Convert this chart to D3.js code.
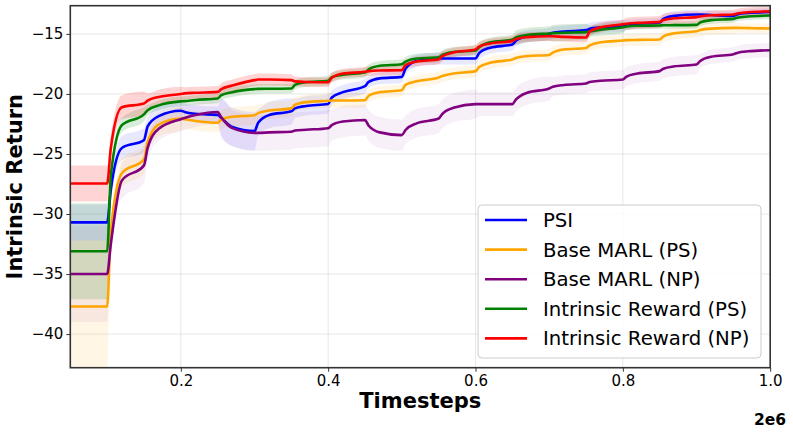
<!DOCTYPE html>
<html>
<head>
<meta charset="utf-8">
<script src="https://cdn.jsdelivr.net/npm/d3@7"></script>
<style>
body { margin: 0; background: #fff; }
text { font-family: "DejaVu Sans", sans-serif; }
</style>
</head>
<body>
<script>
var width = 793, height = 434
var margin = {top: 5.7, right: 22.8, bottom: 66.3, left: 70.3}

// timesteps where the curves were read: each evaluation (every 1e5 steps),
// plus two points just after each jump (+1e4 and +4e4 steps)
var timesteps = [100000,
    200000, 210000, 240000,   300000, 310000, 340000,   400000, 410000, 440000,
    500000, 510000, 540000,   600000, 610000, 640000,   700000, 710000, 740000,
    800000, 810000, 840000,   900000, 910000, 940000,   1000000, 1010000, 1040000,
    1100000, 1110000, 1140000, 1200000, 1210000, 1240000, 1300000, 1310000, 1340000,
    1400000, 1410000, 1440000, 1500000, 1510000, 1540000, 1600000, 1610000, 1640000,
    1700000, 1710000, 1740000, 1800000, 1810000, 1840000, 1900000, 1910000, 1940000,
    2000000]

var psi = [-30.7,
    -30.7, -28.0, -24.5,   -23.85, -22.7, -21.85,   -21.4, -21.5, -21.65,
    -21.75, -22.0, -22.75,   -23.1, -22.4, -21.75,   -21.45, -21.2, -21.0,
    -20.83, -20.3, -19.85,   -19.35, -19.0, -18.7,   -18.58, -17.9, -17.25,
    -17.05, -17.05, -17.05,   -17.05, -16.6, -16.15,   -15.88, -15.55, -15.2,
    -15.0, -14.9, -14.8,   -14.68, -14.58, -14.45,   -14.35, -14.25, -14.15,
    -14.05, -13.75, -13.5,   -13.38, -13.38, -13.42,   -13.5, -13.38, -13.25,
    -13.17]
var basePS = [-37.7,
    -37.7, -31.5, -26.6,   -25.45, -24.0, -22.55,   -22.05, -22.1, -22.25,
    -22.4, -22.15, -21.9,   -21.77, -21.6, -21.38,   -21.2, -20.9, -20.68,
    -20.57, -20.55, -20.55,   -20.52, -20.15, -19.85,   -19.69, -19.25, -18.95,
    -18.63, -18.5, -18.3,   -18.1, -17.75, -17.4,   -17.13, -17.0, -16.85,
    -16.75, -16.55, -16.3,   -16.17, -15.95, -15.7,   -15.55, -15.52, -15.5,
    -15.47, -15.2, -14.95,   -14.78, -14.68, -14.56,   -14.5, -14.5, -14.52,
    -14.55]
var baseNP = [-35.0,
    -35.0, -32.5, -27.2,   -25.95, -24.5, -22.9,   -22.1, -22.0, -21.75,
    -21.5, -21.95, -22.85,   -23.24, -23.24, -23.2,   -23.15, -23.05, -22.98,
    -22.85, -22.6, -22.3,   -22.17, -22.65, -23.2,   -23.43, -23.0, -22.45,
    -22.05, -21.65, -21.15,   -20.85, -20.85, -20.85,   -20.85, -20.45, -19.9,
    -19.55, -19.4, -19.25,   -19.13, -19.0, -18.9,   -18.8, -18.55, -18.3,
    -18.1, -17.9, -17.7,   -17.55, -17.25, -16.9,   -16.69, -16.58, -16.45,
    -16.36]
var irPS = [-33.1,
    -33.1, -26.8, -22.6,   -21.7, -21.35, -20.95,   -20.62, -20.6, -20.5,
    -20.38, -20.1, -19.85,   -19.6, -19.58, -19.57,   -19.55, -19.25, -19.02,
    -18.9, -18.6, -18.4,   -18.22, -17.95, -17.65,   -17.52, -17.3, -17.05,
    -16.95, -16.75, -16.5,   -16.38, -16.1, -15.7,   -15.47, -15.3, -15.1,
    -14.97, -14.95, -14.9,   -14.85, -14.8, -14.65,   -14.45, -14.38, -14.32,
    -14.3, -14.28, -14.27,   -14.25, -14.05, -13.85,   -13.75, -13.65, -13.55,
    -13.47]
var irNP = [-27.46,
    -27.46, -24.5, -21.1,   -20.8, -20.55, -20.25,   -20.0, -19.95, -19.9,
    -19.83, -19.6, -19.3,   -18.85, -18.8, -18.8,   -18.85, -18.95, -19.0,
    -19.02, -18.65, -18.3,   -18.15, -18.1, -18.05,   -18.02, -17.6, -17.3,
    -17.13, -16.85, -16.55,   -16.3, -16.05, -15.8,   -15.58, -15.42, -15.27,
    -15.19, -15.2, -15.25,   -15.3, -14.8, -14.45,   -14.2, -14.15, -14.08,
    -14.0, -13.85, -13.7,   -13.6, -13.55, -13.45,   -13.38, -13.3, -13.2,
    -13.12]

// std (half width of the shaded band) for each 1e5-step interval, 19 intervals
var psiStd    = [1.5, 1.0, 0.8, 0.7, 1.6, 1.1, 0.8, 0.6, 0.5, 0.5, 0.5, 0.5, 0.5, 0.5, 0.5, 0.4, 0.4, 0.4, 0.3]
var basePSStd = [5.5, 1.2, 1.0, 0.8, 0.8, 0.7, 0.6, 0.6, 0.5, 0.5, 0.5, 0.5, 0.5, 0.5, 0.5, 0.5, 0.5, 0.5, 0.4]
var baseNPStd = [4.0, 1.5, 1.0, 1.0, 1.5, 1.5, 1.5, 1.3, 1.3, 1.2, 1.2, 1.0, 1.0, 0.8, 0.8, 0.8, 0.8, 0.6, 0.6]
var irPSStd   = [4.0, 0.6, 0.4, 0.4, 0.4, 0.4, 0.4, 0.4, 0.4, 0.4, 0.4, 0.4, 0.6, 0.7, 0.5, 0.3, 0.3, 0.3, 0.3]
var irNPStd   = [1.5, 1.0, 0.6, 0.5, 0.5, 0.5, 0.4, 0.4, 0.4, 0.4, 0.4, 0.4, 0.4, 0.4, 0.4, 0.5, 0.5, 0.4, 0.4]

var names = ["PSI", "Base MARL (PS)", "Base MARL (NP)", "Intrinsic Reward (PS)", "Intrinsic Reward (NP)"]
var colors = ["#0000ff", "#ffa500", "#800080", "#008000", "#ff0000"]
var bandOpacity = [0.09, 0.1, 0.06, 0.15, 0.17]

var xTicks = [400000, 800000, 1200000, 1600000, 2000000]
var yTicks = [-40, -35, -30, -25, -20, -15]

var series = [
    {name: names[0], color: colors[0], op: bandOpacity[0], v: psi, s: psiStd},
    {name: names[1], color: colors[1], op: bandOpacity[1], v: basePS, s: basePSStd},
    {name: names[2], color: colors[2], op: bandOpacity[2], v: baseNP, s: baseNPStd},
    {name: names[3], color: colors[3], op: bandOpacity[3], v: irPS, s: irPSStd},
    {name: names[4], color: colors[4], op: bandOpacity[4], v: irNP, s: irNPStd}
]

// interval index for a timestep (a jump point still belongs to the previous interval)
function interval(t){
    return Math.min(18, Math.max(0, Math.ceil((t - 100000) / 100000) - 1))
}

var x = d3.scaleLinear().domain([100000, 2000000]).range([margin.left, width - margin.right])
var y = d3.scaleLinear().domain([-42.8, -12.65]).range([height - margin.bottom, margin.top])

var svg = d3.select("body").append("svg").attr("width", width).attr("height", height)

svg.append("clipPath").attr("id", "plot")
    .append("rect")
    .attr("x", margin.left).attr("y", margin.top)
    .attr("width", width - margin.left - margin.right)
    .attr("height", height - margin.top - margin.bottom)

// grid
svg.append("g").selectAll("line").data(xTicks).enter().append("line")
    .attr("x1", d => x(d)).attr("x2", d => x(d))
    .attr("y1", margin.top).attr("y2", height - margin.bottom)
    .attr("stroke", "#b0b0b0").attr("stroke-opacity", 0.35).attr("stroke-width", 0.9)
svg.append("g").selectAll("line").data(yTicks).enter().append("line")
    .attr("y1", d => y(d)).attr("y2", d => y(d))
    .attr("x1", margin.left).attr("x2", width - margin.right)
    .attr("stroke", "#b0b0b0").attr("stroke-opacity", 0.35).attr("stroke-width", 0.9)

var plot = svg.append("g").attr("clip-path", "url(#plot)")

// bands
series.forEach(function(sr){
    var area = d3.area()
        .x((d, i) => x(timesteps[i]))
        .y0((d, i) => y(d - sr.s[interval(timesteps[i])]))
        .y1((d, i) => y(d + sr.s[interval(timesteps[i])]))
        .curve(d3.curveMonotoneX)
    plot.append("path").datum(sr.v)
        .attr("d", area)
        .attr("fill", sr.color).attr("fill-opacity", sr.op)
})

// lines
series.forEach(function(sr){
    var line = d3.line()
        .x((d, i) => x(timesteps[i]))
        .y(d => y(d))
        .curve(d3.curveMonotoneX)
    plot.append("path").datum(sr.v)
        .attr("d", line)
        .attr("fill", "none").attr("stroke", sr.color)
        .attr("stroke-width", 2.6).attr("stroke-linejoin", "round")
})

// axes
var xAxis = d3.axisBottom(x).tickValues(xTicks).tickSize(4).tickPadding(4)
    .tickFormat(d => d3.format(".1f")(d / 2e6))
var yAxis = d3.axisLeft(y).tickValues(yTicks).tickSize(4).tickPadding(3)

var gx = svg.append("g").attr("transform", "translate(0," + (height - margin.bottom) + ")").call(xAxis)
var gy = svg.append("g").attr("transform", "translate(" + margin.left + ",0)").call(yAxis)
;[gx, gy].forEach(function(g){
    g.select(".domain").remove()
    g.selectAll("line").attr("stroke", "#333").attr("stroke-width", 1)
    g.selectAll("text").attr("fill", "#000").style("font-size", "15px")
        .style("font-family", "'DejaVu Sans', sans-serif")
})

// frame
svg.append("rect")
    .attr("x", margin.left).attr("y", margin.top)
    .attr("width", width - margin.left - margin.right)
    .attr("height", height - margin.top - margin.bottom)
    .attr("fill", "none").attr("stroke", "#333").attr("stroke-width", 1.6)

// labels
svg.append("text")
    .attr("x", (margin.left + width - margin.right) / 2).attr("y", 408)
    .attr("text-anchor", "middle").style("font-size", "21px").style("font-weight", "bold")
    .text("Timesteps")
svg.append("text")
    .attr("transform", "translate(22," + ((margin.top + height - margin.bottom) / 2) + ") rotate(-90)")
    .attr("text-anchor", "middle").style("font-size", "21px").style("font-weight", "bold")
    .text("Intrinsic Return")
svg.append("text")
    .attr("x", 786).attr("y", 425)
    .attr("text-anchor", "end").style("font-size", "15.5px").style("font-weight", "bold")
    .text("2e6")

// legend
var lg = svg.append("g")
lg.append("rect")
    .attr("x", 478).attr("y", 205).attr("width", 283).attr("height", 153)
    .attr("rx", 4).attr("ry", 4)
    .attr("fill", "#fff").attr("fill-opacity", 0.8)
    .attr("stroke", "#cccccc").attr("stroke-width", 1)
var rows = lg.selectAll("g.row").data(series).enter().append("g")
    .attr("transform", (d, i) => "translate(0," + (220 + i * 29.6) + ")")
rows.append("line")
    .attr("x1", 485).attr("x2", 527)
    .attr("stroke", d => d.color).attr("stroke-width", 2.6)
rows.append("text")
    .attr("x", 543).attr("y", 7)
    .style("font-size", "19.7px")
    .text(d => d.name)
</script>
</body>
</html>
